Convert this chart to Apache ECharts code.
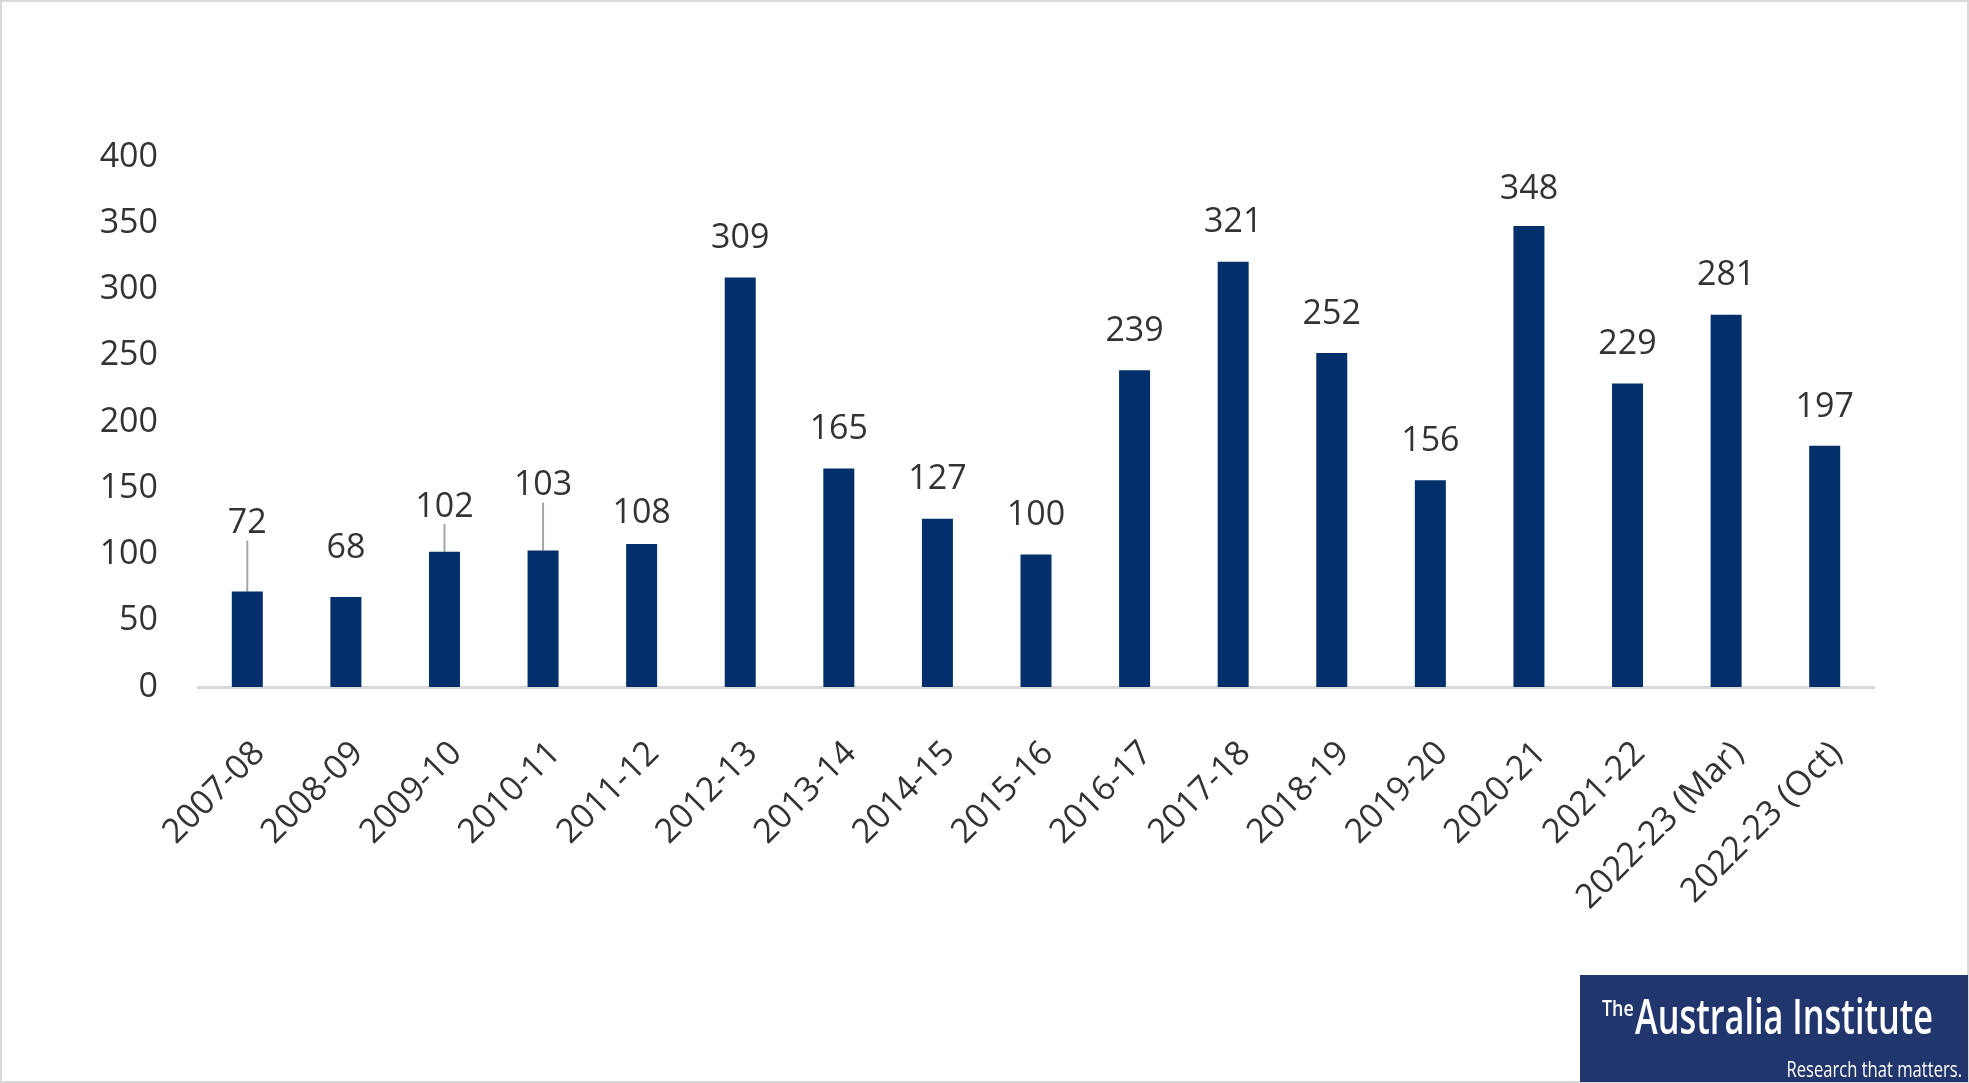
<!DOCTYPE html>
<html>
<head>
<meta charset="utf-8">
<script src="https://cdn.jsdelivr.net/npm/echarts@6/dist/echarts.min.js"></script>
<style>
html,body{margin:0;padding:0;background:#fff;}
#chart{width:1969px;height:1083px;}
</style>
</head>
<body>
<div id="chart"></div>
<script>
const categories = ['2007-08','2008-09','2009-10','2010-11','2011-12','2012-13','2013-14','2014-15','2015-16','2016-17','2017-18','2018-19','2019-20','2020-21','2021-22','2022-23 (Mar)','2022-23 (Oct)'];
const barValues = [72, 68, 102, 103, 108, 309, 165, 127, 100, 239, 321, 252, 156, 348, 229, 281, 182];
const labelTexts = ['72','68','102','103','108','309','165','127','100','239','321','252','156','348','229','281','197'];
const yTicks = [0, 50, 100, 150, 200, 250, 300, 350, 400];
const leaderLineIdx = [0, 2, 3];
const labelShift = [-29, -10, -6, -26, 8, 0, 0, 0, 0, 0, 0, 0, 0, 2, 0, 0, 0];

const FONT = '"Open Sans", "Noto Sans", sans-serif';
const TXT = '#333333';

const chart = echarts.init(document.getElementById('chart'), null, {renderer: 'canvas'});
chart.setOption({
  backgroundColor: '#ffffff',
  animation: false,
  grid: {left: 198, right: 95, top: 157, bottom: 396, containLabel: false},
  xAxis: {
    type: 'category',
    data: categories,
    axisLine: {show: true, lineStyle: {color: '#d9d9d9', width: 3}},
    axisTick: {show: false},
    axisLabel: {rotate: 45, verticalAlign: 'top', fontFamily: FONT, fontSize: 34, color: TXT, margin: 49, interval: 0}
  },
  yAxis: {
    type: 'value',
    min: yTicks[0],
    max: yTicks[yTicks.length - 1],
    interval: yTicks[1] - yTicks[0],
    axisLine: {show: false},
    axisTick: {show: false},
    splitLine: {show: false},
    axisLabel: {fontFamily: FONT, fontSize: 34, color: TXT, margin: 40}
  },
  series: [{
    type: 'bar',
    barWidth: 31,
    itemStyle: {color: '#03306b'},
    data: barValues.map((v, i) => ({
      value: v,
      labelLine: {show: leaderLineIdx.indexOf(i) >= 0, lineStyle: {color: '#a6a6a6', width: 2}}
    })),
    label: {
      show: true,
      position: 'top',
      distance: 22,
      fontFamily: FONT,
      fontSize: 34,
      color: TXT,
      formatter: (p) => labelTexts[p.dataIndex]
    },
    labelLine: {show: false, lineStyle: {color: '#a6a6a6', width: 2}},
    labelLayout: (p) => ({dy: labelShift[p.dataIndex]})
  }],
  graphic: [
    {type: 'rect', shape: {x: 1, y: 1, width: 1967, height: 1081}, style: {fill: 'none', stroke: '#d9d9d9', lineWidth: 2}, silent: true},
    {type: 'rect', shape: {x: 1580, y: 975, width: 388, height: 107}, style: {fill: '#22366e'}},
    {type: 'text', x: 1602, y: 1010, scaleX: 0.85, style: {text: 'The', fill: '#ffffff', verticalAlign: 'middle', font: '600 21px "Open Sans", sans-serif'}},
    {type: 'text', x: 1635, y: 1020, scaleX: 0.70, style: {text: 'Australia Institute', fill: '#ffffff', verticalAlign: 'middle', font: '600 49px "Open Sans", sans-serif'}},
    {type: 'text', x: 1962, y: 1071, scaleX: 0.79, style: {text: 'Research that matters.', fill: '#ffffff', align: 'right', verticalAlign: 'middle', font: '21px "Open Sans", sans-serif'}}
  ]
});
</script>
</body>
</html>
